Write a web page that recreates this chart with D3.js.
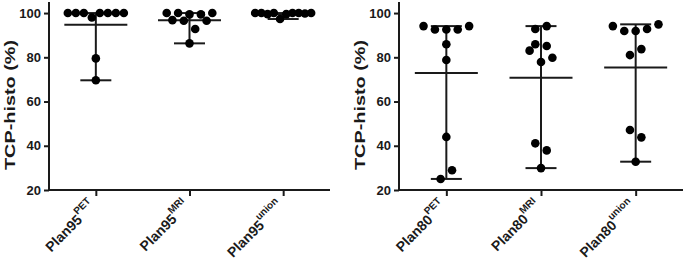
<!DOCTYPE html>
<html><head><meta charset="utf-8">
<script src="https://cdn.jsdelivr.net/npm/d3@7"></script>
<style>body{margin:0;background:#fff} svg{display:block}</style>
</head><body><svg id="chart" width="685" height="260"></svg>
<script>
// ---- data ----
const yTicks = [20, 40, 60, 80, 100];
const yLabel = "TCP-histo (%)";
const plan95Names = ["Plan95", "Plan95", "Plan95"];
const plan95Sups = ["PET", "MRI", "union"];
const plan80Names = ["Plan80", "Plan80", "Plan80"];
const plan80Sups = ["PET", "MRI", "union"];
// values, listed left-to-right within each horizontal row of the scatter
const plan95PET = [100, 100, 100, 98, 100, 100, 100, 100, 79.5, 69.6];
const plan95MRI = [100, 100, 99.4, 99.4, 100, 96.8, 96.5, 92.8, 96.5, 86.3];
const plan95Union = [100, 100, 99.5, 100, 97.3, 99.5, 100, 100, 99.8, 100];
const plan80PET = [94.1, 92.6, 92.6, 92.6, 94.1, 85.9, 78.8, 44.0, 25.0, 28.9];
const plan80MRI = [92.8, 94.1, 85.9, 85.1, 83.0, 77.9, 79.8, 41.1, 37.9, 29.9];
const plan80Union = [94.1, 91.9, 91.9, 92.8, 94.9, 81.0, 83.7, 47.1, 43.8, 32.8];

const panels = [
  {names: plan95Names, sups: plan95Sups, series: [plan95PET, plan95MRI, plan95Union], x0: 49, x1: 330},
  {names: plan80Names, sups: plan80Sups, series: [plan80PET, plan80MRI, plan80Union], x0: 399, x1: 683}
];

const svg = d3.select("#chart");
const yTop = 2, yBot = 190;
const y = d3.scaleLinear().domain([20, 105]).range([yBot, yTop]);
const font = "'Liberation Sans', Arial, sans-serif";
const ink = "#1a1a1a";
const rowThresh = 5.8;   // value units grouping points into one row
const dotR = 4.3, stepX = 11.4, maxSpan = 56;

function swarm(vals) {
  const idx = vals.map((v, i) => i).sort((a, b) => vals[a] - vals[b] || a - b);
  const rows = [];
  let cur = null;
  idx.forEach(i => {
    if (!cur || vals[i] - cur.min > rowThresh) { cur = {min: vals[i], items: []}; rows.push(cur); }
    cur.items.push(i);
  });
  const off = new Array(vals.length).fill(0);
  rows.forEach(r => {
    r.items.sort((a, b) => a - b);
    const n = r.items.length;
    const s = n > 1 ? Math.min(stepX, maxSpan / (n - 1)) : 0;
    r.items.forEach((i, k) => off[i] = (k - (n - 1) / 2) * s);
  });
  return off;
}

panels.forEach(p => {
  const g = svg.append("g");
  const keys = p.sups.map((s, i) => i);
  const x = d3.scalePoint().domain(keys).range([p.x0, p.x1]).padding(0.5);

  // y axis
  const ya = g.append("g").attr("transform", `translate(${p.x0},0)`)
    .call(d3.axisLeft(y).tickValues(yTicks).tickSize(5).tickPadding(3).tickFormat(d3.format("d")));
  ya.select(".domain").attr("stroke", ink).attr("stroke-width", 2).attr("d", `M0,${yBot}V${yTop}`);
  ya.selectAll(".tick line").attr("stroke", ink).attr("stroke-width", 2);
  ya.selectAll(".tick text").attr("font-family", font).attr("font-weight", "bold")
    .attr("font-size", 13).attr("fill", ink);

  // x axis
  const xa = g.append("g").attr("transform", `translate(0,${yBot})`)
    .call(d3.axisBottom(x).tickSize(6).tickFormat(""));
  xa.select(".domain").attr("stroke", ink).attr("stroke-width", 2).attr("d", `M${p.x0},0H${p.x1}`);
  xa.selectAll(".tick line").attr("stroke", ink).attr("stroke-width", 2);

  // x labels
  keys.forEach(k => {
    const t = g.append("text")
      .attr("transform", `translate(${x(k) + 1},${yBot + 17}) rotate(-45)`)
      .attr("text-anchor", "end").attr("font-family", font).attr("font-weight", "bold")
      .attr("font-size", 14).attr("fill", ink);
    t.append("tspan").text(p.names[k]);
    t.append("tspan").attr("font-size", 10).attr("dy", -8).text(p.sups[k]);
  });

  // y label
  g.append("text")
    .attr("transform", `translate(${p.x0 - 34},${(yBot + 20) / 2}) rotate(-90)`)
    .attr("text-anchor", "middle").attr("font-family", font).attr("font-weight", "bold")
    .attr("font-size", 15).attr("fill", ink)
    .attr("textLength", 130).attr("lengthAdjust", "spacingAndGlyphs").text(yLabel);

  // data
  p.series.forEach((vals, k) => {
    const cx = x(k);
    const off = swarm(vals);
    const mean = d3.mean(vals), mn = d3.min(vals), mx = d3.max(vals);
    const sg = g.append("g");
    sg.append("line").attr("x1", cx).attr("x2", cx).attr("y1", y(mn)).attr("y2", y(mx))
      .attr("stroke", ink).attr("stroke-width", 2);
    [mn, mx].forEach(v => sg.append("line").attr("x1", cx - 15.5).attr("x2", cx + 15.5)
      .attr("y1", y(v)).attr("y2", y(v)).attr("stroke", ink).attr("stroke-width", 2));
    sg.append("line").attr("x1", cx - 31.5).attr("x2", cx + 31.5)
      .attr("y1", y(mean)).attr("y2", y(mean)).attr("stroke", ink).attr("stroke-width", 2);
    sg.selectAll("circle").data(vals).join("circle")
      .attr("cx", (d, i) => cx + off[i]).attr("cy", d => y(d)).attr("r", dotR).attr("fill", "#000");
  });
});
</script></body></html>
